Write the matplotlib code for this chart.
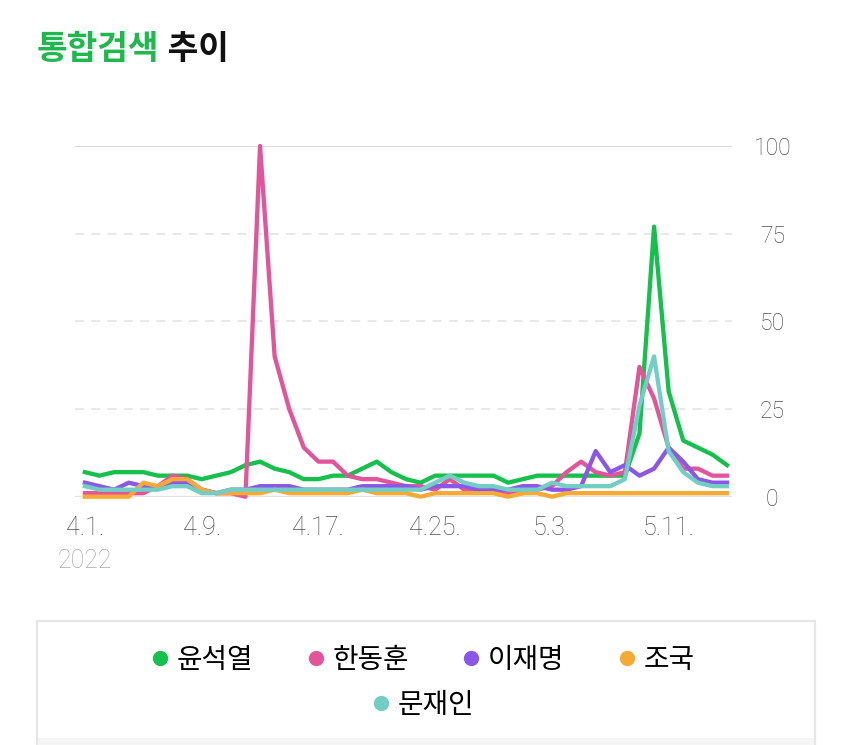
import matplotlib
matplotlib.use('Agg')
import matplotlib.pyplot as plt
import numpy as np
from matplotlib.lines import Line2D
from matplotlib.patches import Rectangle
from matplotlib.transforms import blended_transform_factory

plt.rcParams['font.family'] = ['Noto Sans CJK KR', 'DejaVu Sans']

# ---- data ----
series_names = ['윤석열', '한동훈', '이재명', '조국', '문재인']
yoon = [7, 6, 7, 7, 7, 6, 6, 6, 5, 6, 7, 9, 10, 8, 7, 5, 5, 6, 6, 8, 10, 7, 5, 4, 6,
        6, 6, 6, 6, 4, 5, 6, 6, 6, 6, 6, 6, 6, 18, 77, 30, 16, 14, 12, 9]
han = [1, 1, 1, 1, 1, 3, 6, 5, 2, 1, 1, 0, 100, 40, 25, 14, 10, 10, 6, 5, 5, 4, 3, 3, 2,
       5, 2, 2, 2, 1, 1, 2, 3, 7, 10, 7, 6, 7, 37, 28, 14, 8, 8, 6, 6]
lee = [4, 3, 2, 4, 3, 3, 4, 4, 2, 1, 2, 2, 3, 3, 3, 2, 2, 2, 2, 3, 3, 3, 3, 2, 3,
       3, 3, 2, 2, 2, 3, 3, 2, 2, 3, 13, 7, 9, 6, 8, 14, 10, 5, 4, 4]
cho = [0, 0, 0, 0, 4, 3, 5, 5, 2, 1, 1, 1, 1, 2, 1, 1, 1, 1, 1, 2, 1, 1, 1, 0, 1,
       1, 1, 1, 1, 0, 1, 1, 0, 1, 1, 1, 1, 1, 1, 1, 1, 1, 1, 1, 1]
moon = [3, 2, 2, 2, 2, 2, 3, 3, 1, 1, 2, 2, 2, 2, 2, 2, 2, 2, 2, 2, 2, 2, 2, 2, 4,
        6, 4, 3, 3, 2, 2, 2, 4, 3, 3, 3, 3, 5, 26, 40, 13, 7, 4, 3, 3]
series_values = [yoon, han, lee, cho, moon]
colors = ['#16c04c', '#e2559b', '#8c57e8', '#f5aa35', '#72cec4']

tick_days = [0, 8, 16, 24, 32, 40]
tick_labels = ['4.1.', '4.9.', '4.17.', '4.25.', '5.3.', '5.11.']
year_label = '2022'
y_ticks = [0, 25, 50, 75, 100]

W, H = 850, 745
fig = plt.figure(figsize=(W / 100, H / 100), dpi=100)
fig.patch.set_facecolor('white')

y0px, y100px = 496.7, 146.0
x_left, x_right = 75, 732
ax = fig.add_axes([x_left / W, (H - y0px) / H, (x_right - x_left) / W, (y0px - y100px) / H])
ax.set_facecolor('white')

# grid lines
for v in y_ticks:
    if v == 0:
        ax.axhline(v, color='#e2e2e2', lw=1.6, zorder=0)
    elif v == 100:
        ax.axhline(v, color='#dadada', lw=1.4, zorder=0)
    else:
        ax.axhline(v, color='#e6e6e6', lw=1.3, ls=(0, (5, 4)), zorder=0)

days = np.arange(len(yoon))
for name, vals, c in zip(series_names, series_values, colors):
    ax.plot(days, vals, color=c, lw=3.1, clip_on=False, label=name, zorder=3)

ax.set_xlim(-0.68, 44.34)
ax.set_ylim(0, 100)
for s in ax.spines.values():
    s.set_visible(False)

tick_font = ['Roboto', 'DejaVu Sans']
ax.yaxis.tick_right()
ax.set_yticks(y_ticks)
ax.set_yticklabels([str(v) for v in y_ticks])
ax.tick_params(axis='y', length=0, pad=29, labelsize=16.5, labelcolor='#4e4e4e')
for lab in ax.get_yticklabels():
    lab.set_horizontalalignment('center')
    lab.set_fontfamily(tick_font)
    lab.set_fontweight('light')

ax.set_xticks(tick_days)
ax.set_xticklabels(tick_labels)
ax.tick_params(axis='x', length=0, pad=14, labelsize=18, labelcolor='#4e4e4e')
for lab in ax.get_xticklabels():
    lab.set_fontfamily(tick_font)
    lab.set_fontweight('light')

trans = blended_transform_factory(ax.transData, ax.transAxes)
ax.text(tick_days[0], (y0px - 561) / (y0px - y100px), year_label, transform=trans,
        ha='center', va='center', fontsize=18, color='#aaaaaa',
        fontfamily=tick_font, fontweight='light')

# title
t1 = fig.text(37 / W, 1 - 49 / H, '통합검색', color='#1fb84f', fontsize=24,
              fontweight='bold', va='center', ha='left')
ax.annotate(' 추이', xy=(1, 0.5), xycoords=t1, va='center', ha='left',
            fontsize=24, fontweight='bold', color='#111111', annotation_clip=False)

# legend box
fig.add_artist(Rectangle((37 / W, 0), (815 - 37) / W, 7 / H,
                         transform=fig.transFigure, fill=True, fc='#f4f5f4', ec='none'))
fig.add_artist(Rectangle((37 / W, -0.05), (815 - 37) / W, (H - 621) / H + 0.05,
                         transform=fig.transFigure, fill=False, ec='#e6e6e6', lw=1.6))

handles = [Line2D([], [], marker='o', ls='none', color=c, markersize=10) for c in colors]
leg1 = fig.legend(handles[:4], series_names[:4], loc='center',
                  bbox_to_anchor=(424 / W, 1 - 660 / H), ncol=4, frameon=False,
                  fontsize=20, handlelength=0.5, handletextpad=0.35, columnspacing=2.0)
leg2 = fig.legend(handles[4:], series_names[4:], loc='center',
                  bbox_to_anchor=(424 / W, 1 - 705 / H), ncol=1, frameon=False,
                  fontsize=20, handlelength=0.5, handletextpad=0.35)

fig.savefig('out.png', dpi=100, facecolor='white')
